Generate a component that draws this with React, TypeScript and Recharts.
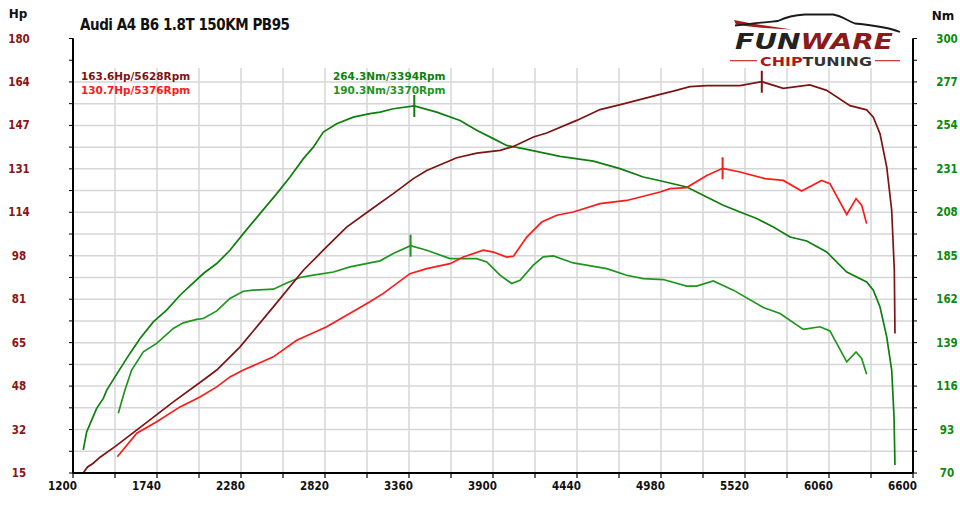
import React from 'react';
import { LineChart, Line, XAxis, YAxis, CartesianGrid } from 'recharts';

// ---- tick values & labels ----
const rpmMajorTicks = [1200, 1740, 2280, 2820, 3360, 3900, 4440, 4980, 5520, 6060, 6600];
const rpmTickLabels = ['1200', '1740', '2280', '2820', '3360', '3900', '4440', '4980', '5520', '6060', '6600'];
const hpMajorTicks = [15, 31.5, 48, 64.5, 81, 97.5, 114, 130.5, 147, 163.5, 180];
const hpTickLabels = ['15', '32', '48', '65', '81', '98', '114', '131', '147', '164', '180'];
const nmMajorTicks = [70, 93, 116, 139, 162, 185, 208, 231, 254, 277, 300];
const nmTickLabels = ['70', '93', '116', '139', '162', '185', '208', '231', '254', '277', '300'];

// ---- series ----
const tunedPowerRpm = [1266, 1292, 1330, 1374, 1470, 1674, 1845, 2038, 2124, 2274, 2488, 2681, 2809, 2959, 3109, 3259, 3388, 3474, 3667, 3796, 3946, 4031, 4160, 4245, 4438, 4588, 4738, 4974, 5059, 5166, 5274, 5488, 5628, 5766, 5937, 6045, 6195, 6302, 6345, 6388, 6431, 6463, 6480, 6484];
const tunedPowerHp = [15.0, 17.2, 18.7, 21.0, 25.0, 34.2, 42.0, 50.3, 54.1, 62.9, 78.1, 92.0, 99.6, 108.4, 114.8, 121.1, 126.8, 129.9, 134.7, 136.5, 137.5, 139.0, 142.6, 144.1, 148.9, 153.0, 155.2, 158.8, 160.0, 161.7, 162.1, 162.1, 163.6, 161.1, 162.4, 160.3, 154.5, 152.9, 150.1, 143.8, 131.2, 114.8, 92.0, 68.0];

const stockPowerRpm = [1485, 1610, 1738, 1888, 2016, 2124, 2209, 2295, 2488, 2638, 2831, 2959, 3109, 3195, 3366, 3474, 3624, 3709, 3838, 3902, 3988, 4031, 4117, 4213, 4310, 4416, 4588, 4759, 4974, 5038, 5145, 5274, 5376, 5488, 5648, 5766, 5884, 6013, 6066, 6174, 6234, 6270, 6302];
const stockPowerHp = [21.2, 30.1, 34.5, 40.1, 43.9, 47.7, 51.5, 54.1, 59.1, 65.4, 70.5, 74.9, 80.0, 83.2, 90.7, 92.6, 94.5, 97.0, 99.6, 98.9, 97.0, 97.3, 104.6, 110.3, 112.9, 114.1, 117.3, 118.5, 121.7, 123.0, 123.4, 128.0, 130.7, 129.3, 126.8, 126.1, 122.1, 126.1, 124.9, 113.2, 119.2, 116.7, 109.7];

const tunedTorqueRpm = [1266, 1288, 1352, 1395, 1417, 1470, 1566, 1631, 1716, 1802, 1888, 2038, 2124, 2209, 2295, 2402, 2510, 2595, 2681, 2745, 2809, 2895, 3002, 3109, 3174, 3259, 3394, 3538, 3688, 3795, 3902, 3988, 4117, 4331, 4545, 4716, 4866, 4974, 5145, 5274, 5380, 5488, 5595, 5702, 5810, 5917, 6045, 6174, 6302, 6345, 6388, 6431, 6463, 6478, 6484];
const tunedTorqueNm = [82.2, 91.8, 104.2, 109.5, 113.9, 120.9, 133.3, 141.2, 150.0, 156.2, 164.1, 175.6, 180.9, 187.9, 196.7, 207.3, 217.9, 226.7, 236.4, 242.5, 250.5, 254.9, 258.4, 260.2, 261.0, 262.8, 264.3, 261.0, 256.6, 251.4, 247.0, 243.4, 241.3, 237.6, 235.1, 231.1, 226.7, 224.7, 221.4, 216.1, 211.7, 208.2, 204.7, 200.2, 194.9, 192.8, 187.0, 176.4, 171.1, 166.8, 157.9, 142.1, 124.5, 99.8, 74.2];

const stockTorqueRpm = [1491, 1534, 1577, 1652, 1738, 1845, 1909, 1995, 2038, 2124, 2209, 2295, 2359, 2488, 2574, 2659, 2745, 2874, 2981, 3109, 3174, 3259, 3370, 3474, 3624, 3795, 3860, 3945, 4020, 4074, 4159, 4223, 4288, 4416, 4631, 4759, 4866, 4995, 5145, 5209, 5316, 5445, 5638, 5745, 5895, 6002, 6066, 6174, 6234, 6270, 6302];
const stockTorqueNm = [101.6, 113.9, 124.5, 134.1, 138.6, 146.5, 149.5, 151.3, 151.8, 155.8, 162.4, 166.2, 166.8, 167.3, 170.6, 173.5, 174.7, 176.4, 179.1, 181.2, 182.3, 186.2, 190.3, 187.9, 183.5, 183.5, 181.7, 174.7, 170.3, 172.0, 180.0, 184.4, 184.9, 181.2, 178.2, 174.7, 172.9, 172.4, 168.9, 168.9, 171.7, 166.8, 157.6, 154.4, 146.0, 147.4, 145.2, 128.8, 134.1, 130.6, 122.3];

const peakLabels = {
  tunedPower: '163.6Hp/5628Rpm',
  stockPower: '130.7Hp/5376Rpm',
  tunedTorque: '264.3Nm/3394Rpm',
  stockTorque: '190.3Nm/3370Rpm',
};
const peakRpms = { tunedPower: 5628, stockPower: 5376, tunedTorque: 3394, stockTorque: 3370 };
const title = 'Audi A4 B6 1.8T 150KM PB95';

// ---- helpers ----
const withMinor = (major: number[]) => {
  const out: number[] = [];
  for (let i = 0; i < major.length; i++) {
    out.push(major[i]);
    if (i < major.length - 1) out.push((major[i] + major[i + 1]) / 2);
  }
  return out;
};
const zip = (xs: number[], ys: number[], key: string) => {
  const n = Math.min(xs.length, ys.length);
  const out: any[] = [];
  for (let i = 0; i < n; i++) out.push({ rpm: xs[i], [key]: ys[i] });
  return out;
};

const rpmTicks = withMinor(rpmMajorTicks);
const hpTicks = withMinor(hpMajorTicks);
const nmTicks = withMinor(nmMajorTicks);

const tunedPowerData = zip(tunedPowerRpm, tunedPowerHp, 'hp');
const stockPowerData = zip(stockPowerRpm, stockPowerHp, 'hp');
const tunedTorqueData = zip(tunedTorqueRpm, tunedTorqueNm, 'nm');
const stockTorqueData = zip(stockTorqueRpm, stockTorqueNm, 'nm');

const C_TUNED_HP = '#7d1414';
const C_STOCK_HP = '#ff1a1a';
const C_TUNED_NM = '#0e7f0e';
const C_STOCK_NM = '#1f951f';
const C_LEFT_TICK = '#8b1414';
const C_RIGHT_TICK = '#0b8a0b';

const tickFont = "'DejaVu Sans Condensed', 'DejaVu Sans', sans-serif";

const labelFor = (ticks: number[], labels: string[], v: number) => {
  const i = ticks.indexOf(v);
  return i >= 0 ? labels[i] : '';
};

const HpTick = (props: any) => {
  const { x, y, payload } = props;
  const lbl = labelFor(hpMajorTicks, hpTickLabels, payload.value);
  if (!lbl) return <g />;
  return (
    <text x={x - 48} y={y} textAnchor="middle" dominantBaseline="central" fill={C_LEFT_TICK}
      fontFamily={tickFont} fontStretch="condensed" fontWeight="bold" fontSize={11.5}>{lbl}</text>
  );
};
const NmTick = (props: any) => {
  const { x, y, payload } = props;
  const lbl = labelFor(nmMajorTicks, nmTickLabels, payload.value);
  if (!lbl) return <g />;
  return (
    <text x={x + 28} y={y} textAnchor="middle" dominantBaseline="central" fill={C_RIGHT_TICK}
      fontFamily={tickFont} fontStretch="condensed" fontWeight="bold" fontSize={11.5}>{lbl}</text>
  );
};
const RpmTick = (props: any) => {
  const { x, payload } = props;
  const lbl = labelFor(rpmMajorTicks, rpmTickLabels, payload.value);
  if (!lbl) return <g />;
  return (
    <text x={x - 10.5} y={486} textAnchor="middle" dominantBaseline="central" fill="#111"
      fontFamily={tickFont} fontStretch="condensed" fontWeight="bold" fontSize={11.5}>{lbl}</text>
  );
};

const makePeakDot = (peakRpm: number, color: string) => (props: any) => {
  const { cx, cy, payload, index } = props;
  if (payload && payload.rpm === peakRpm) {
    return <line key={`pk-${index}`} x1={cx} x2={cx} y1={cy - 11} y2={cy + 11} stroke={color} strokeWidth={2} />;
  }
  return <g key={`d-${index}`} />;
};

const annFont = "'DejaVu Sans', sans-serif";

export default function App() {
  return (
    <div style={{ position: 'absolute', left: 0, top: 0, width: 960, height: 515, background: '#fff' }}>
      <LineChart width={960} height={515} margin={{ top: 38.5, right: 0, bottom: 0, left: 0 }}>
        <CartesianGrid yAxisId="hp" stroke="#d6d6d6" strokeWidth={1.5} />
        <XAxis dataKey="rpm" type="number" domain={[1200, 6600]} ticks={rpmTicks} interval={0}
          allowDataOverflow height={42} tickSize={5}
          axisLine={{ stroke: '#000', strokeWidth: 2 }} tickLine={{ stroke: '#000', strokeWidth: 1.2 }}
          tick={<RpmTick />} />
        <YAxis yAxisId="hp" orientation="left" type="number" domain={[15, 180]} ticks={hpTicks} interval={0}
          allowDataOverflow width={73} tickSize={4}
          axisLine={{ stroke: '#000', strokeWidth: 2 }} tickLine={{ stroke: '#000', strokeWidth: 1 }}
          tick={<HpTick />} />
        <YAxis yAxisId="nm" orientation="right" type="number" domain={[70, 300]} ticks={nmTicks} interval={0}
          allowDataOverflow width={47} tickSize={4}
          axisLine={{ stroke: '#000', strokeWidth: 2 }} tickLine={{ stroke: '#000', strokeWidth: 1 }}
          tick={<NmTick />} />
        <Line data={tunedTorqueData} dataKey="nm" yAxisId="nm" type="linear" stroke={C_TUNED_NM} strokeWidth={1.7}
          dot={makePeakDot(peakRpms.tunedTorque, C_TUNED_NM)} activeDot={false} isAnimationActive={false} />
        <Line data={stockTorqueData} dataKey="nm" yAxisId="nm" type="linear" stroke={C_STOCK_NM} strokeWidth={1.7}
          dot={makePeakDot(peakRpms.stockTorque, C_STOCK_NM)} activeDot={false} isAnimationActive={false} />
        <Line data={stockPowerData} dataKey="hp" yAxisId="hp" type="linear" stroke={C_STOCK_HP} strokeWidth={1.7}
          dot={makePeakDot(peakRpms.stockPower, C_STOCK_HP)} activeDot={false} isAnimationActive={false} />
        <Line data={tunedPowerData} dataKey="hp" yAxisId="hp" type="linear" stroke={C_TUNED_HP} strokeWidth={1.7}
          dot={makePeakDot(peakRpms.tunedPower, C_TUNED_HP)} activeDot={false} isAnimationActive={false} />
      </LineChart>
      <svg width={960} height={515} style={{ position: 'absolute', left: 0, top: 0, pointerEvents: 'none' }}>
        {/* blank band at the top of the plot where the original has no grid */}
        <rect x={74.2} y={37} width={837.6} height={31} fill="#fff" />
        <text x={18} y={14} textAnchor="middle" dominantBaseline="central" fontFamily={annFont} fontWeight="bold" fontSize={12} fill="#111">Hp</text>
        <text x={943} y={15.5} textAnchor="middle" dominantBaseline="central" fontFamily={annFont} fontWeight="bold" fontSize={12} fill="#111">Nm</text>
        <text x={80} y={30} fontFamily={tickFont} fontStretch="condensed" fontWeight="bold" fontSize={15} fill="#111" textLength={210}>{title}</text>
        <text x={81} y={76} dominantBaseline="central" fontFamily={annFont} fontWeight="bold" fontSize={10.5} fill={C_TUNED_HP}>{peakLabels.tunedPower}</text>
        <text x={81} y={90} dominantBaseline="central" fontFamily={annFont} fontWeight="bold" fontSize={10.5} fill={C_STOCK_HP}>{peakLabels.stockPower}</text>
        <text x={333} y={76} dominantBaseline="central" fontFamily={annFont} fontWeight="bold" fontSize={10.5} fill={C_TUNED_NM}>{peakLabels.tunedTorque}</text>
        <text x={333} y={90} dominantBaseline="central" fontFamily={annFont} fontWeight="bold" fontSize={10.5} fill={C_STOCK_NM}>{peakLabels.stockTorque}</text>
        {/* logo */}
        <path d="M734,20 Q758,25 792,29.5 Q760,28.5 736,24.5 Z" fill="#a81818" />
        <path d="M735,25.5 C752,23.5 768,22 778,21 C786,17 795,15 805,14.5 L833,14.5 C842,16 848,21 855,23.5 C870,25 888,27 900,32"
          fill="none" stroke="#1a1a1a" strokeWidth={1.8} />
        <text x={735} y={49} fontFamily={annFont} fontWeight="bold" fontStyle="italic" fontSize={22}
          textLength={158} lengthAdjust="spacingAndGlyphs">
          <tspan fill="#222">FUN</tspan><tspan fill="#8b1a1a">WARE</tspan>
        </text>
        <line x1={730} x2={757} y1={60.7} y2={60.7} stroke="#c03030" strokeWidth={1.2} />
        <line x1={875} x2={900} y1={60.7} y2={60.7} stroke="#c03030" strokeWidth={1.2} />
        <text x={760} y={66} fontFamily={annFont} fontWeight="bold" fontSize={12}
          textLength={112} lengthAdjust="spacingAndGlyphs">
          <tspan fill="#b01818">CHIP</tspan><tspan fill="#333">TUNING</tspan>
        </text>
      </svg>
    </div>
  );
}
